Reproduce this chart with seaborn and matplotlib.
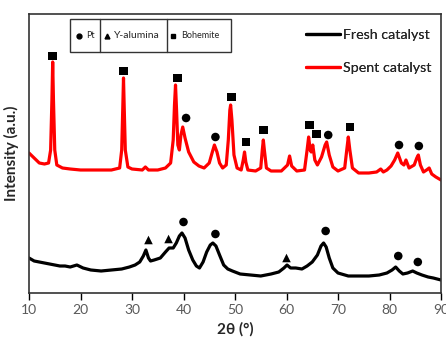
import matplotlib
matplotlib.use("Agg")
import matplotlib.pyplot as plt
import seaborn as sns
import pandas as pd
from matplotlib.patches import Rectangle
from matplotlib.lines import Line2D

# ---------------- data ----------------
spent_2theta = [10.0, 11, 12, 13, 13.8, 14.2, 14.45, 14.6, 14.75, 15.0, 15.4, 16.5, 18, 20, 22, 24, 26,
                27.6, 28.0, 28.2, 28.35, 28.5, 28.7, 29.2, 30, 32, 32.6, 33.2, 35, 36.5, 37.5, 38.0,
                38.25, 38.45, 38.65, 38.9, 39.2, 39.5, 39.85, 40.3, 41, 42, 43, 44, 45, 45.6, 46.0,
                46.5, 47, 47.6, 48.3, 48.7, 49.0, 49.15, 49.4, 49.8, 50.4, 51.2, 51.6, 51.85, 52.1,
                52.5, 54, 55.0, 55.3, 55.5, 55.7, 56.1, 57, 59, 60.2, 60.6, 61.0, 62, 63.5, 64.0,
                64.3, 64.6, 64.8, 65.1, 65.5, 66, 66.8, 67.5, 67.8, 68.3, 69, 70, 71.3, 71.7, 72.0,
                72.3, 72.8, 74, 76, 77.5, 78.3, 78.8, 79.5, 80.3, 81.0, 81.6, 82.3, 82.8, 83.2, 83.8,
                84.8, 85.3, 85.6, 86.0, 86.6, 87.2, 87.7, 88.2, 89, 90]
spent_intensity = [140, 135, 130, 129, 130, 143, 193, 231, 193, 143, 128, 125, 124, 123, 123, 123, 123,
                   125, 143, 183, 215, 183, 143, 126, 124, 123, 126, 123, 123, 125, 130, 153,
                   188, 208, 183, 148, 143, 158, 166, 155, 141, 131, 127, 125, 130, 141, 148,
                   141, 130, 125, 128, 153, 183, 188, 173, 138, 125, 123, 133, 141, 131,
                   123, 122, 125, 143, 153, 143, 125, 122, 122, 128, 137, 127, 122, 123, 143,
                   156, 143, 141, 148, 133, 128, 136, 148, 151, 138, 126, 122, 125, 143, 156,
                   143, 125, 120, 120, 121, 124, 121, 123, 127, 133, 140, 130, 128, 133, 125,
                   128, 135, 138, 128, 121, 123, 125, 119, 116, 113]

fresh_2theta = [10, 11, 12, 13, 14, 15, 16, 17, 18, 19.3, 20.5, 22, 24, 26, 28, 29.5, 30.6, 31.5, 32.2,
                32.7, 33.2, 33.6, 34.3, 35.5, 36.5, 37.2, 38.0, 38.6, 39.2, 39.7, 40.3, 41.0, 41.8,
                42.5, 43.1, 43.8, 44.5, 45.2, 45.7, 46.3, 47.0, 47.8, 48.6, 49.5, 51, 53, 55, 57,
                58.5, 59.5, 60.1, 60.8, 61.8, 63, 64, 65, 66, 66.7, 67.2, 67.7, 68.3, 69, 70, 72,
                74, 76, 78, 79.5, 80.5, 81.2, 81.9, 82.6, 83.5, 84.5, 85.3, 86.3, 87.5, 88.5, 90]
fresh_intensity = [35, 32, 31, 30, 29, 28, 27, 27, 26, 28, 25, 23, 22, 23, 24, 26, 28, 31, 37,
                   43, 35, 32, 33, 35, 41, 45, 45, 50, 57, 60, 55, 43, 33,
                   27, 25, 31, 41, 48, 50, 47, 38, 28, 24, 22, 19, 18, 17, 19,
                   21, 25, 28, 25, 25, 24, 27, 31, 38, 47, 50, 46, 35, 25, 20, 17,
                   17, 17, 18, 20, 23, 26, 22, 19, 20, 22, 20, 18, 16, 15, 13]

bohemite_2theta = [14.6, 28.35, 38.85, 49.3, 52.1, 55.5, 64.5, 65.8, 72.3]
bohemite_y = [237, 222, 215, 196, 151, 163, 168, 159, 166]
pt_2theta = [40.5, 46.2, 68.1, 81.85, 85.7, 40.0, 46.2, 67.6, 81.7, 85.5]
pt_y = [175, 156, 158, 148, 147, 71, 59, 62, 37, 31]
alumina_2theta = [33.2, 37.1, 60.0]
alumina_y = [53, 54, 35]

x_ticks = [10, 20, 30, 40, 50, 60, 70, 80, 90]

# ---------------- frames ----------------
curves = pd.concat([
    pd.DataFrame({"2theta": fresh_2theta, "I": fresh_intensity, "sample": "Fresh catalyst"}),
    pd.DataFrame({"2theta": spent_2theta, "I": spent_intensity, "sample": "Spent catalyst"}),
], ignore_index=True)
marks = pd.concat([
    pd.DataFrame({"2theta": pt_2theta, "I": pt_y, "phase": "Pt"}),
    pd.DataFrame({"2theta": alumina_2theta, "I": alumina_y, "phase": "Y-alumina"}),
    pd.DataFrame({"2theta": bohemite_2theta, "I": bohemite_y, "phase": "Bohemite"}),
], ignore_index=True)

sns.set_theme(style="white")
plt.rcParams["font.family"] = ["Lato", "DejaVu Sans"]

fig = plt.figure(figsize=(4.46, 3.51), dpi=100)
ax = fig.add_axes([29 / 446, 1 - 293 / 351, 412 / 446, 279 / 351])

sns.lineplot(data=curves, x="2theta", y="I", hue="sample",
             palette={"Fresh catalyst": "black", "Spent catalyst": "#ff0000"},
             linewidth=2.3, ax=ax, sort=False, estimator=None, legend=False)

sns.scatterplot(data=marks, x="2theta", y="I", style="phase",
                markers={"Pt": "o", "Y-alumina": "^", "Bohemite": "s"},
                s=38, color="black", edgecolor="none", ax=ax, legend=False)

ax.set_xlim(10, 90)
ax.set_ylim(0, 279)
ax.set_xticks(x_ticks)
ax.set_xticklabels([str(t) for t in x_ticks])
ax.set_yticks([])
ax.tick_params(axis="x", direction="out", length=5, width=1, color="black",
               labelsize=10, labelcolor="#595959", pad=3, bottom=True)
for sp in ax.spines.values():
    sp.set_color("#333333")
    sp.set_linewidth(1.2)
ax.set_xlabel("2θ (°)", fontsize=11, fontweight="bold", labelpad=4)
ax.set_ylabel("Intensity (a.u.)", fontsize=11, fontweight="bold", labelpad=7)

# right legend (line samples)
handles = [Line2D([], [], color="black", lw=2.3), Line2D([], [], color="#ff0000", lw=2.3)]
leg = ax.legend(handles, ["Fresh catalyst", "Spent catalyst"], loc="upper left",
                bbox_to_anchor=((306 - 29) / 412, (293 - 29) / 279), frameon=False,
                fontsize=10.3, handlelength=2.4, handletextpad=0.2, labelspacing=1.5,
                borderpad=0, borderaxespad=0)
ax.add_artist(leg)

# phase key box
x0, x1 = (70 - 29) / 412, (231 - 29) / 412
y0, y1 = (293 - 52) / 279, (293 - 19) / 279
ax.add_patch(Rectangle((x0, y0), x1 - x0, y1 - y0, transform=ax.transAxes,
                       fill=False, edgecolor="#333333", lw=1.0, zorder=5))
for xd in [(100 - 29) / 412, (167 - 29) / 412]:
    ax.plot([xd, xd], [y0, y1], transform=ax.transAxes, color="#333333", lw=1.0, zorder=5)
yc = (y0 + y1) / 2
ax.plot([(79 - 29) / 412], [yc], marker="o", ms=3.5, color="black", transform=ax.transAxes, zorder=6)
ax.text((86 - 29) / 412, yc, "Pt", fontsize=6.5, va="center", ha="left", transform=ax.transAxes)
ax.plot([(107 - 29) / 412], [yc], marker="^", ms=3.5, color="black", transform=ax.transAxes, zorder=6)
ax.text((114 - 29) / 412, yc, "Y-alumina", fontsize=7.5, va="center", ha="left", transform=ax.transAxes)
ax.plot([(173 - 29) / 412], [yc], marker="s", ms=3.5, color="black", transform=ax.transAxes, zorder=6)
ax.text((181 - 29) / 412, yc, "Bohemite", fontsize=6.5, va="center", ha="left", transform=ax.transAxes)

fig.savefig("out.png", dpi=100)
